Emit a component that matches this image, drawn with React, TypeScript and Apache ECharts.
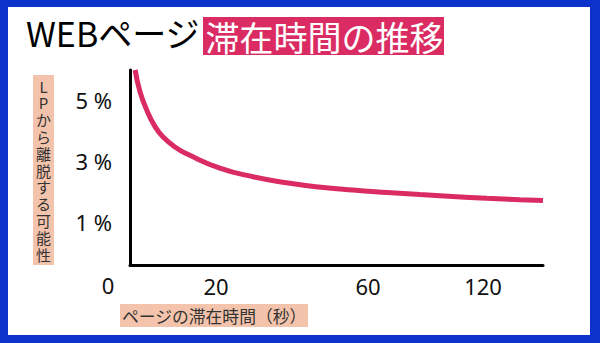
import React, { useEffect, useRef } from "react";
import * as echarts from "echarts";

// Dwell time on the page (seconds) and probability of leaving the LP (%)
const dwellSeconds = [1.2, 2.3, 4.0, 5.8, 7.7, 10.9, 13.3, 21, 30, 39, 47, 56, 70, 87, 104, 122, 139, 151];
const leaveRate = [6.0, 5.3, 4.65, 4.15, 3.8, 3.43, 3.24, 2.78, 2.49, 2.29, 2.16, 2.06, 1.98, 1.91, 1.85, 1.79, 1.745, 1.72];

// Tick labels
const xTickSeconds = [20, 60, 120];
const yTickValues = [1, 3, 5];

// Texts
const titleBlack = "WEBページ";
const titleHighlight = "滞在時間の推移";
const yAxisTitle = "LPから離脱する可能性";
const xAxisTitle = "ページの滞在時間（秒）";

// Non-linear (illustrative) time scale: knots of seconds -> axis units
const scaleSeconds = [0, 20, 60, 120, 151];
const scaleUnits = [0, 86, 238, 353, 413];

function toUnits(s: number): number {
  for (let i = 1; i < scaleSeconds.length; i++) {
    if (s <= scaleSeconds[i] || i === scaleSeconds.length - 1) {
      const s0 = scaleSeconds[i - 1], s1 = scaleSeconds[i];
      const u0 = scaleUnits[i - 1], u1 = scaleUnits[i];
      return u0 + ((s - s0) / (s1 - s0)) * (u1 - u0);
    }
  }
  return 0;
}

const PINK = "#da2b63";
const PEACH = "#f3c4ab";
const FONT = "'Noto Sans CJK JP', 'Noto Sans', sans-serif";
const NUMFONT = "'Noto Sans', 'Open Sans', sans-serif";

export default function App() {
  const ref = useRef<HTMLDivElement>(null);

  useEffect(() => {
    if (!ref.current) return;
    const chart = echarts.init(ref.current, undefined, { renderer: "svg" });
    const tickUnits = xTickSeconds.map(toUnits);
    const labelFor = (v: number) => {
      const i = tickUnits.findIndex((u) => Math.abs(u - v) < 0.01);
      return i >= 0 ? String(xTickSeconds[i]) : "";
    };
    const yChars = yAxisTitle.split("");
    const yCharStep = 16.8;
    const yCharTop = 170 - ((yChars.length - 1) * yCharStep) / 2;
    chart.setOption({
      animation: false,
      grid: { left: 130, top: 70, width: 413, height: 195, containLabel: false },
      xAxis: {
        type: "value",
        min: 0,
        max: 413,
        axisLine: { show: true, onZero: false, lineStyle: { color: "#000", width: 3 } },
        axisTick: { show: false },
        splitLine: { show: false },
        axisLabel: {
          customValues: tickUnits,
          formatter: (v: number) => labelFor(v),
          fontSize: 22,
          color: "#111",
          fontFamily: NUMFONT,
          margin: 10,
        },
      },
      yAxis: {
        type: "value",
        min: -0.4,
        max: 6,
        axisLine: { show: true, lineStyle: { color: "#000", width: 3 } },
        axisTick: { show: false },
        splitLine: { show: false },
        axisLabel: {
          customValues: yTickValues,
          formatter: (v: number) => `${v} %`,
          fontSize: 22,
          color: "#111",
          fontFamily: NUMFONT,
          margin: 18,
        },
      },
      series: [
        {
          type: "line",
          data: dwellSeconds.map((s, i) => [toUnits(s), leaveRate[i]]),
          smooth: 0.5,
          symbol: "none",
          clip: true,
          lineStyle: { color: PINK, width: 5 },
        },
      ],
      graphic: [
        {
          type: "text",
          left: 26,
          top: 15,
          style: { text: titleBlack, fontSize: 34, fontFamily: FONT, fill: "#000" },
        },
        {
          type: "rect",
          shape: { x: 203, y: 17, width: 241, height: 38 },
          style: { fill: PINK },
        },
        {
          type: "text",
          x: 205.5,
          y: 36,
          style: {
            text: titleHighlight,
            fontSize: 34,
            fontFamily: FONT,
            fill: "#fff",
            verticalAlign: "middle",
            align: "left",
          },
        },
        {
          type: "rect",
          shape: { x: 33, y: 75, width: 21, height: 190 },
          style: { fill: PEACH },
        },
        ...yChars.map((ch, i) => ({
          type: "text",
          x: 43.5,
          y: yCharTop + i * yCharStep,
          style: {
            text: ch,
            fontSize: 15,
            lineHeight: 15,
            fontFamily: FONT,
            fill: "#333",
            align: "center",
            verticalAlign: "middle",
          },
        })),
        {
          type: "rect",
          shape: { x: 120, y: 304, width: 188, height: 23 },
          style: { fill: PEACH },
        },
        {
          type: "text",
          x: 122,
          y: 315.5,
          style: {
            text: xAxisTitle,
            fontSize: 16.8,
            fontFamily: FONT,
            fill: "#333",
            align: "left",
            verticalAlign: "middle",
          },
        },
        {
          type: "text",
          x: 108,
          y: 285,
          style: {
            text: "0",
            fontSize: 22,
            fontFamily: NUMFONT,
            fill: "#111",
            align: "center",
            verticalAlign: "middle",
          },
        },
      ],
    });
    return () => chart.dispose();
  }, []);

  return (
    <div style={{ position: "fixed", left: 0, top: 0, width: 600, height: 343, background: "#0b33cc" }}>
      <div style={{ position: "absolute", left: 8, top: 7, width: 582, height: 328, background: "#fff" }} />
      <div ref={ref} style={{ position: "absolute", left: 0, top: 0, width: 600, height: 343 }} />
    </div>
  );
}
